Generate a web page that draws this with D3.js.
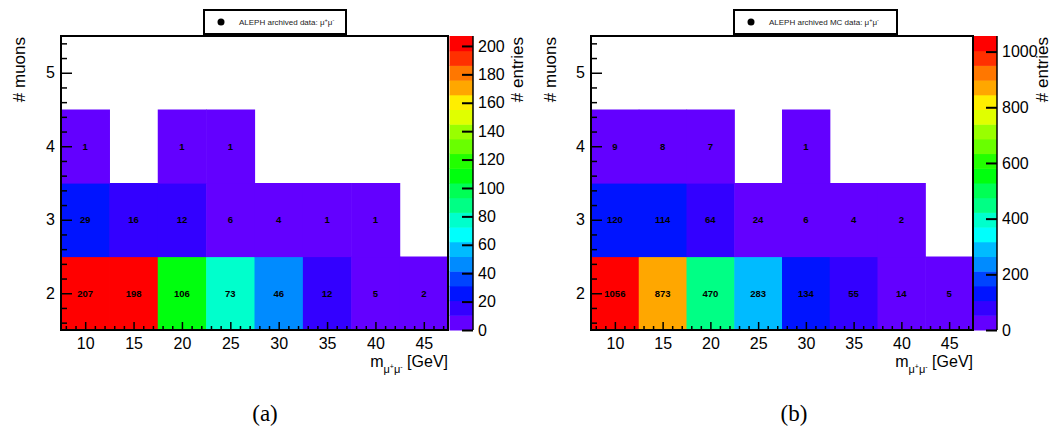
<!DOCTYPE html>
<html><head><meta charset="utf-8">
<script src="https://cdn.jsdelivr.net/npm/d3@7"></script>
<style>body{margin:0;background:#fff}svg{display:block}</style>
</head><body>
<svg id="c" width="1054" height="429" font-family="Liberation Sans, Arial, sans-serif"></svg>
<script>
// ---- data ----
const massBins = [10, 15, 20, 25, 30, 35, 40, 45];      // bin centres, GeV
const muonBins = [2, 3, 4];
const dataA_2mu = [207, 198, 106, 73, 46, 12, 5, 2];
const dataA_3mu = [29, 16, 12, 6, 4, 1, 1, 0];
const dataA_4mu = [1, 0, 1, 1, 0, 0, 0, 0];
const dataB_2mu = [1056, 873, 470, 283, 134, 55, 14, 5];
const dataB_3mu = [120, 114, 64, 24, 6, 4, 2, 0];
const dataB_4mu = [9, 8, 7, 0, 1, 0, 0, 0];
const xTicks = [10, 15, 20, 25, 30, 35, 40, 45];
const yTicks = [2, 3, 4, 5];
const zTicksA = [0, 20, 40, 60, 80, 100, 120, 140, 160, 180, 200];
const zTicksB = [0, 200, 400, 600, 800, 1000];
const legendA = "ALEPH archived data: ";
const legendB = "ALEPH archived MC data: ";
const panelLabels = ["(a)", "(b)"];

const svg = d3.select("#c");
const NLEV = 20;
function levelColor(k) {
  const idx = Math.floor((k + 0.99) * 50 / NLEV);
  const hue = idx >= 49 ? 0 : 280 - (idx + 1) * 5.6;
  return d3.hsl(hue, 1, 0.5).formatRgb();
}

function panel(o) {
  const g = svg.append("g");
  const rows = [o.r2, o.r3, o.r4];
  const zmax = d3.max(rows.flat());
  const x = d3.scaleLinear([7.5, 47.5], [o.x0, o.x1]);
  const y = d3.scaleLinear([1.5, 5.5], [330, 36]);
  const z = d3.scaleLinear([0, zmax], [330, 36]);
  const cells = [];
  rows.forEach((r, j) => r.forEach((v, i) => { if (v > 0) cells.push({m: massBins[i], n: muonBins[j], v}); }));
  const lev = v => Math.min(NLEV - 1, Math.floor(v / zmax * NLEV));
  g.selectAll("rect.cell").data(cells).join("rect")
    .attr("x", d => x(d.m - 2.5)).attr("width", d => x(d.m + 2.5) - x(d.m - 2.5) + 0.6)
    .attr("y", d => y(d.n + 0.5)).attr("height", d => y(d.n - 0.5) - y(d.n + 0.5) + 0.6)
    .attr("fill", d => levelColor(lev(d.v)));
  g.selectAll("text.cell").data(cells).join("text")
    .attr("x", d => x(d.m)).attr("y", d => y(d.n))
    .attr("text-anchor", "middle").attr("dominant-baseline", "central")
    .attr("font-size", 9.5).attr("font-weight", "bold").text(d => d.v);

  // axes
  const ax = g.append("g").attr("transform", `translate(0,330)`)
    .call(d3.axisBottom(x).tickValues(xTicks).tickSize(-8).tickPadding(8));
  ax.select(".domain").remove();
  ax.selectAll("text").attr("font-size", 16).attr("font-family", null);
  ax.selectAll("line").attr("stroke-width", 1.5);
  const axm = g.append("g").attr("transform", `translate(0,330)`)
    .call(d3.axisBottom(x).tickValues(d3.range(8, 48).filter(v => v % 5)).tickSize(-4).tickFormat(""));
  axm.select(".domain").remove();
  axm.selectAll("line").attr("stroke-width", 1.5);

  const ay = g.append("g").attr("transform", `translate(${o.x0},0)`)
    .call(d3.axisLeft(y).tickValues(yTicks).tickSize(-11).tickPadding(6).tickFormat(d3.format("d")));
  ay.select(".domain").remove();
  ay.selectAll("text").attr("font-size", 16).attr("font-family", null);
  ay.selectAll("line").attr("stroke-width", 1.5);
  const minorY = d3.range(16, 55, 2).map(v => v / 10).filter(v => Math.abs(v - Math.round(v)) > 1e-6);
  const aym = g.append("g").attr("transform", `translate(${o.x0},0)`)
    .call(d3.axisLeft(y).tickValues(minorY).tickSize(-6).tickFormat(""));
  aym.select(".domain").remove();
  aym.selectAll("line").attr("stroke-width", 1.5);

  g.append("rect").attr("x", o.x0).attr("y", 36).attr("width", o.x1 - o.x0).attr("height", 294)
    .attr("fill", "none").attr("stroke", "#000").attr("stroke-width", 2);

  // colour bar
  const bands = d3.range(NLEV);
  g.selectAll("rect.band").data(bands).join("rect")
    .attr("x", o.cb0).attr("width", o.cb1 - o.cb0)
    .attr("y", k => z((k + 1) * zmax / NLEV)).attr("height", k => z(k * zmax / NLEV) - z((k + 1) * zmax / NLEV) + 0.5)
    .attr("fill", k => levelColor(k));
  const az = g.append("g").attr("transform", `translate(${o.cb1},0)`)
    .call(d3.axisRight(z).tickValues(o.zt).tickSize(-11).tickPadding(5).tickFormat(d3.format("d")));
  az.select(".domain").attr("stroke-width", 1.5).attr("d", `M0,330V36`);
  az.selectAll("text").attr("font-size", 16).attr("font-family", null);
  az.selectAll("line").attr("stroke-width", 2);

  // titles
  g.append("text").attr("transform", `translate(${o.yl},37) rotate(-90)`)
    .attr("text-anchor", "end").attr("dy", "0.35em").attr("font-size", 17).text("# muons");
  g.append("text").attr("transform", `translate(${o.zl},37) rotate(-90)`)
    .attr("text-anchor", "end").attr("dy", "0.35em").attr("font-size", 17).text("# entries");
  const xt = g.append("text").attr("x", o.x1).attr("y", 367).attr("text-anchor", "end").attr("font-size", 16);
  xt.append("tspan").text("m");
  xt.append("tspan").attr("dy", 6).attr("font-size", 11).text("μ");
  xt.append("tspan").attr("dy", -4).attr("font-size", 7).text("+");
  xt.append("tspan").attr("dy", 4).attr("font-size", 11).text("μ");
  xt.append("tspan").attr("dy", -4).attr("font-size", 7).text("-");
  xt.append("tspan").attr("dy", -2).attr("font-size", 16).text(" [GeV]");

  // legend
  g.append("rect").attr("x", o.lg0).attr("y", 10).attr("width", o.lg1 - o.lg0).attr("height", 24)
    .attr("fill", "#fff").attr("stroke", "#000").attr("stroke-width", 2);
  g.append("circle").attr("cx", o.lg0 + 17).attr("cy", 22).attr("r", 3.5).attr("fill", "#000");
  const lt = g.append("text").attr("x", o.lg0 + 35).attr("y", 25).attr("font-size", 8).attr("fill", "#222");
  lt.append("tspan").text(o.leg + "μ");
  lt.append("tspan").attr("dy", -3).attr("font-size", 5.5).text("+");
  lt.append("tspan").attr("dy", 3).attr("font-size", 8).text("μ");
  lt.append("tspan").attr("dy", -3).attr("font-size", 5.5).text("-");

  g.append("text").attr("x", o.pl).attr("y", 421).attr("text-anchor", "middle")
    .attr("font-family", "Liberation Serif, Times New Roman, serif").attr("font-size", 23).text(o.plab);
}

panel({x0: 61, x1: 448, cb0: 449.5, cb1: 473, r2: dataA_2mu, r3: dataA_3mu, r4: dataA_4mu, zt: zTicksA,
  yl: 19, zl: 517, lg0: 204, lg1: 346, leg: legendA, pl: 265, plab: panelLabels[0]});
panel({x0: 591, x1: 973, cb0: 974, cb1: 997, r2: dataB_2mu, r3: dataB_3mu, r4: dataB_4mu, zt: zTicksB,
  yl: 550, zl: 1042, lg0: 734, lg1: 897, leg: legendB, pl: 794, plab: panelLabels[1]});
</script>
</body></html>
